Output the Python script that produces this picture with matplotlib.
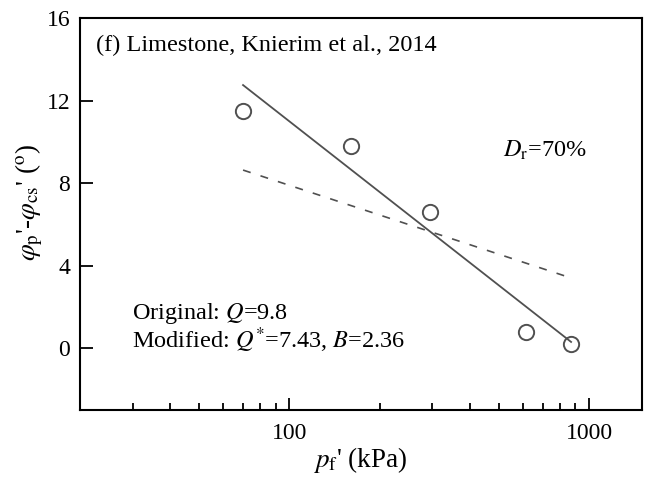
import numpy as np
import matplotlib
matplotlib.use("Agg")
import matplotlib.pyplot as plt
from matplotlib.ticker import LogLocator, FixedLocator, NullFormatter

plt.rcParams['font.family'] = ['Liberation Serif', 'DejaVu Serif']
plt.rcParams['mathtext.fontset'] = 'stix'

# measured data, Dr = 70%
p_f = [70, 160, 294, 615, 870]
dphi = [11.5, 9.8, 6.6, 0.8, 0.2]

# fitted lines (end points)
fit_p = [70, 870]
fit_modified = [12.75, 0.3]
fit_original = [8.63, 3.4]

gray = '#505050'

fig = plt.figure(figsize=(6.46, 4.79), dpi=100)
ax = fig.add_axes([0.1238, 0.144, 0.870, 0.8184])

ax.plot(fit_p, fit_modified, '-', color=gray, lw=1.3)
ax.plot(fit_p, fit_original, '--', color=gray, lw=1.2, dashes=(4.8, 6.2))
ax.plot(p_f, dphi, 'o', ms=11, mfc='none', mec=gray, mew=1.4)

ax.set_xscale('log')
ax.set_xlim(20, 1500)
ax.set_ylim(-3, 16)
ax.yaxis.set_major_locator(FixedLocator([0, 4, 8, 12, 16]))
ax.xaxis.set_major_locator(FixedLocator([100, 1000]))
ax.xaxis.set_minor_locator(LogLocator(base=10, subs=np.arange(2, 10)))
ax.xaxis.set_minor_formatter(NullFormatter())
ax.set_xticklabels(['100', '1000'])

ax.tick_params(which='both', direction='in', top=False, right=False, labelsize=17)
ax.tick_params(which='major', length=9, width=1.3)
ax.tick_params(which='minor', length=5, width=1.3)
ax.tick_params(axis='y', pad=7)
ax.tick_params(axis='x', pad=9)
for s in ax.spines.values():
    s.set_linewidth(1.5)

ax.set_xlabel(r"$p_{\rm f}$' (kPa)", fontsize=19.5)
ax.set_ylabel(r"$\varphi_{\rm p}$'-$\varphi_{\rm cs}$' ($^{\rm o}$)", fontsize=19.5)
ax.xaxis.set_label_coords(0.498, -0.089)
ax.yaxis.set_label_coords(-0.062, 0.53)

ax.text(0.028, 0.931, '(f) Limestone, Knierim et al., 2014', transform=ax.transAxes,
        fontsize=17.5, va='center', ha='left')
ax.text(0.753, 0.663, r"$D_{\rm r}$=70%", transform=ax.transAxes, fontsize=17.5,
        va='center', ha='left')
ax.text(0.0925, 0.247, r"Original: $Q$=9.8", transform=ax.transAxes, fontsize=17.5,
        va='center', ha='left')
ax.text(0.0925, 0.179, r"Modified: $Q^{*}$=7.43, $B$=2.36", transform=ax.transAxes,
        fontsize=17.5, va='center', ha='left')

fig.savefig('out.png', dpi=100)
